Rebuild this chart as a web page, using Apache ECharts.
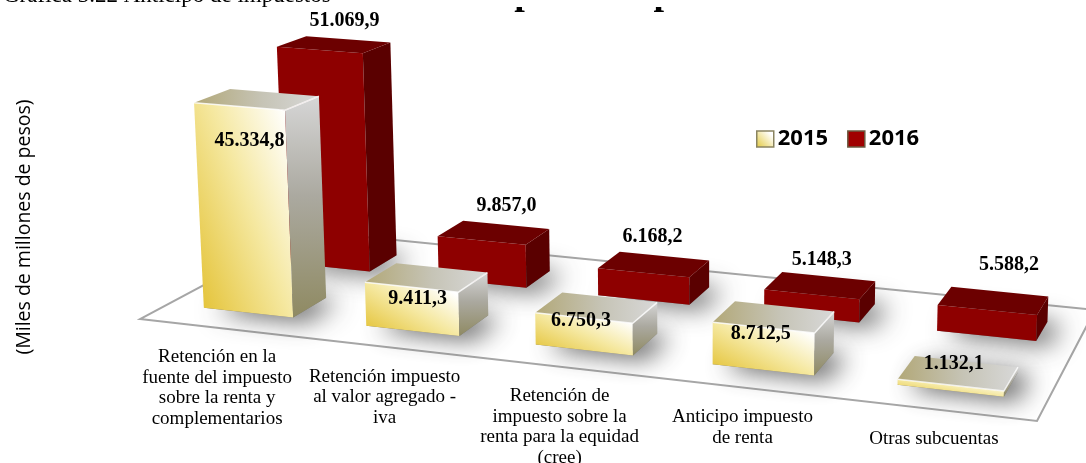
<!DOCTYPE html>
<html>
<head>
<meta charset="utf-8">
<style>
  html, body { margin: 0; padding: 0; background: #fff; overflow: hidden; }
  #chart { width: 1086px; height: 463px; }
</style>
<script src="https://cdn.jsdelivr.net/npm/echarts@6/dist/echarts.min.js"></script>
</head>
<body>
<div id="chart"></div>
<script>
// datos
const categories = [
  'Retención en la\nfuente del impuesto\nsobre la renta y\ncomplementarios',
  'Retención impuesto\nal valor agregado -\niva',
  'Retención de\nimpuesto sobre la\nrenta para la equidad\n(cree)',
  'Anticipo impuesto\nde renta',
  'Otras subcuentas'
];
const values2015 = [45334.8, 9411.3, 6750.3, 8712.5, 1132.1];
const values2016 = [51069.9, 9857.0, 6168.2, 5148.3, 5588.2];
const labels2015 = ['45.334,8', '9.411,3', '6.750,3', '8.712,5', '1.132,1'];
const labels2016 = ['51.069,9', '9.857,0', '6.168,2', '5.148,3', '5.588,2'];

// ajuste de las etiquetas respecto a cada barra
const nudge2015 = [[10, 34], [6, 12], [-3, 3], [-3, 6], [3, -21]];
const nudge2016 = [[11, -24], [13, -27], [-1, -27], [2, -26], [16, -36]];

// esquinas del piso: frente izq, frente der, fondo der, fondo izq
const floor = [[140, 319], [1037, 421], [1095, 310], [305, 231]];

const SERIF = '"Liberation Serif", "Times New Roman", serif';
const LG = echarts.graphic.LinearGradient;

// homografia del cuadrado unitario al piso
const homography = (() => {
  const [p0, p1, p2, p3] = floor;
  const dx1 = p1[0] - p2[0], dx2 = p3[0] - p2[0], sx = p0[0] - p1[0] + p2[0] - p3[0];
  const dy1 = p1[1] - p2[1], dy2 = p3[1] - p2[1], sy = p0[1] - p1[1] + p2[1] - p3[1];
  const det = dx1 * dy2 - dx2 * dy1;
  const g = (sx * dy2 - dx2 * sy) / det;
  const h = (dx1 * sy - sx * dy1) / det;
  return {
    g, h,
    a: p1[0] - p0[0] + g * p1[0], b: p3[0] - p0[0] + h * p3[0], c: p0[0],
    d: p1[1] - p0[1] + g * p1[1], e: p3[1] - p0[1] + h * p3[1], f: p0[1]
  };
})();

const depth = (u, v) => 1 + homography.g * u + homography.h * v;
const project = (u, v) => {
  const m = homography, w = depth(u, v);
  return [(m.a * u + m.b * v + m.c) / w, (m.d * u + m.e * v + m.f) / w];
};
// sube un punto del piso segun la altura del eje y
const lift = (u, v, rawH) => {
  const p = project(u, v);
  const h = rawH / depth(u, v);
  return [p[0] + h * (p[0] - 700) / 10400, p[1] - h];
};

const poly = (points, fill, extra) => ({
  type: 'polygon',
  shape: { points },
  style: Object.assign({ fill }, extra || {})
});

// degradado de la cara frontal: amarillo abajo a la izquierda, blanco arriba a la derecha
const yellowFront = (w, h) => {
  const k = 2 * w * h / (w * w + h * h);
  return new LG(0, 1, h * k / w, 1 - w * k / h, [
    { offset: 0, color: '#E2BF2C' },
    { offset: 0.5, color: '#F5E8A0' },
    { offset: 0.88, color: '#FFFFFF' },
    { offset: 1, color: '#FFFFFF' }
  ]);
};

const skin2015 = {
  side: new LG(0, 0, 0, 1, [
    { offset: 0, color: '#D6D6D6' },
    { offset: 0.45, color: '#ABA9A0' },
    { offset: 1, color: '#8F8A62' }
  ]),
  top: new LG(0, 0, 1, 0, [
    { offset: 0, color: '#B2A878' },
    { offset: 0.55, color: '#C6C4B6' },
    { offset: 1, color: '#D8D8D8' }
  ])
};
const skin2016 = { front: '#8E0000', side: '#5A0000', top: '#6C0000' };

function renderBar(params, api, opt) {
  const i = api.value(0);
  const cs = params.coordSys;
  const base = api.coord([i, 0]);
  const rawH = base[1] - api.coord([i, api.value(1)])[1];
  const u = (base[0] - cs.x) / cs.width;
  const half = api.size([1, 0])[0] * 0.555 / 2 / cs.width;
  const uL = u - half, uR = u + half, v0 = opt.v0, v1 = opt.v1;

  const fl = project(uL, v0), fr = project(uR, v0), br = project(uR, v1), bl = project(uL, v1);
  const tfl = lift(uL, v0, rawH), tfr = lift(uR, v0, rawH), tbr = lift(uR, v1, rawH), tbl = lift(uL, v1, rawH);

  const front = opt.skin.front || yellowFront(fr[0] - fl[0], fr[1] - tfl[1]);
  const children = [
    poly([fl, fr, br, bl], '#777', {
      shadowBlur: 26, shadowColor: 'rgba(50,50,50,0.85)', shadowOffsetX: 13, shadowOffsetY: 3
    }),
    poly([tfl, tfr, fr, fl], front),
    poly([tfr, tbr, br, fr], opt.skin.side),
    poly([tfl, tfr, tbr, tbl], opt.skin.top)
  ];
  if (opt.bevel) {
    children.push({
      type: 'polyline',
      shape: { points: [tfl, tfr, tbr] },
      style: { stroke: 'rgba(255,255,255,0.8)', lineWidth: 1.5, fill: 'none' }
    });
  }

  const anchor = opt.topAnchor
    ? [(tfl[0] + tbr[0]) / 2, (tfl[1] + tbr[1]) / 2]
    : [(tfl[0] + tfr[0]) / 2, (tfl[1] + tfr[1]) / 2];
  children.push({
    type: 'text',
    z2: 10,
    style: {
      text: opt.labels[i],
      x: anchor[0] + opt.nudge[i][0],
      y: anchor[1] + opt.nudge[i][1],
      fill: '#000',
      font: 'bold 20px ' + SERIF,
      align: 'center',
      verticalAlign: 'middle'
    }
  });
  return { type: 'group', children };
}

const option = {
  backgroundColor: '#fff',
  animation: false,
  title: [
    {
      text: 'Gráfica 3.22 Anticipo de impuestos',
      left: -2, top: -21,
      textStyle: { fontFamily: SERIF, fontWeight: 'normal', fontSize: 23, color: '#000' }
    },
    {
      text: 'Anticipo de impuestos',
      left: 410, top: -30,
      textStyle: { fontFamily: SERIF, fontWeight: 'bold', fontSize: 38, color: '#000' }
    }
  ],
  // el titulo grande solo asoma por las patas de las p
  graphic: [{
    type: 'rect', z: 100,
    shape: { x: 400, y: 0, width: 420, height: 7 },
    style: { fill: '#fff' }
  }],
  legend: {
    left: 751, top: 123,
    itemWidth: 17, itemHeight: 16, itemGap: 19,
    textStyle: { fontFamily: '"Open Sans", sans-serif', fontWeight: 'bold', fontSize: 22, color: '#000', padding: [0, 0, 0, -1] },
    data: [
      { name: '2015', icon: 'rect', itemStyle: { color: new LG(0, 1, 1, 0, [{ offset: 0, color: '#E2C83A' }, { offset: 0.8, color: '#FFFFFF' }]), borderColor: '#8A8460', borderWidth: 1.5 } },
      { name: '2016', icon: 'rect', itemStyle: { color: '#A00000', borderColor: '#6B5A40', borderWidth: 1.5 } }
    ]
  },
  grid: { left: 140, width: 897, top: 89, height: 276 },
  xAxis: { type: 'category', data: categories, show: false },
  yAxis: {
    type: 'value', min: 0, max: 60000,
    name: '(Miles de millones de pesos)',
    nameLocation: 'middle', nameRotate: 90, nameGap: 106,
    nameTextStyle: { fontFamily: '"Open Sans", sans-serif', fontSize: 19.5, color: '#000' },
    axisLine: { show: false }, axisTick: { show: false }, axisLabel: { show: false }, splitLine: { show: false }
  },
  series: [
    {
      name: 'piso', type: 'custom', z: 1, silent: true,
      data: [[0, 0]],
      renderItem: () => ({
        type: 'polygon',
        shape: { points: floor },
        style: { fill: '#fff', stroke: '#A6A6A6', lineWidth: 2 }
      })
    },
    {
      name: '2016', type: 'custom', z: 2,
      data: values2016.map((v, i) => [i, v]),
      encode: { x: 0, y: 1 },
      renderItem: (params, api) => renderBar(params, api, { v0: 0.65, v1: 0.84, skin: skin2016, labels: labels2016, nudge: nudge2016, topAnchor: true })
    },
    {
      name: '2015', type: 'custom', z: 3,
      data: values2015.map((v, i) => [i, v]),
      encode: { x: 0, y: 1 },
      renderItem: (params, api) => renderBar(params, api, { v0: 0.155, v1: 0.36, skin: skin2015, labels: labels2015, nudge: nudge2015, bevel: true })
    },
    {
      // nombres de categoria bajo el borde frontal del piso
      name: 'categorias', type: 'custom', z: 4, silent: true,
      data: categories.map((c, i) => [i, 0]),
      encode: { x: 0, y: 1 },
      renderItem: (params, api) => {
        const i = api.value(0), cs = params.coordSys;
        const p = project((api.coord([i, 0])[0] - cs.x) / cs.width, 0);
        return {
          type: 'text',
          style: {
            text: categories[i],
            x: p[0] - 4,
            y: p[1] + 19,
            fill: '#000',
            font: '19px ' + SERIF,
            lineHeight: 20.5,
            align: 'center',
            verticalAlign: 'top'
          }
        };
      }
    }
  ]
};

const myChart = echarts.init(document.getElementById('chart'));
myChart.setOption(option);
</script>
</body>
</html>
